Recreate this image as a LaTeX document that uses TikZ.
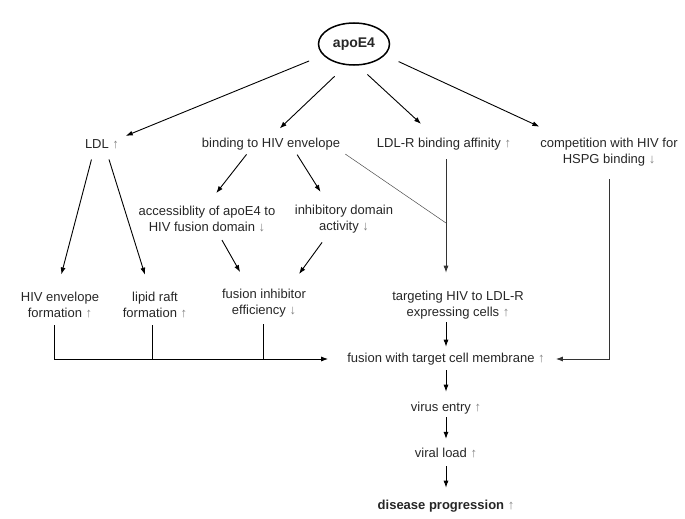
\documentclass[tikz,border=0pt]{standalone}
\usepackage{fontspec}
\setmainfont{Liberation Sans}
\usetikzlibrary{shapes.geometric,arrows.meta}
\newcommand{\upar}{\textcolor{gray}{↑}}
\newcommand{\downar}{\textcolor{gray}{↓}}

\begin{document}
\begin{tikzpicture}[x=1pt,y=-1pt,
	every node/.style={font=\fontsize{13}{16}\selectfont,align=center,inner sep=1pt,text=black!85},
	arr/.style={-{Latex[length=7pt,width=5pt]},line width=0.9pt},
	link/.style={line width=0.9pt}]
	\useasboundingbox (0,0) rectangle (685,519);

	\node[shape=ellipse,draw=black,line width=1.5pt,minimum width=71pt,minimum height=42pt,font=\fontsize{14}{16}\selectfont\bfseries] (apo) at (354,44) {apoE4};

	\node (ldl) at (102,144) {LDL \upar};
	\node (bind) at (271,144) {binding to HIV envelope};
	\node (ldlr) at (444,144) {LDL-R binding affinity \upar};
	\node (comp) at (609,152) {competition with HIV for\\HSPG binding \downar};
	\node (acc) at (207,219) {accessiblity of apoE4 to\\HIV fusion domain \downar};
	\node (inh) at (344,219) {inhibitory domain\\activity \downar};
	\node (env) at (60,305) {HIV envelope\\formation \upar};
	\node (raft) at (155,305) {lipid raft\\formation \upar};
	\node (finh) at (264,303) {fusion inhibitor\\efficiency \downar};
	\node (targ) at (458,305) {targeting HIV to LDL-R\\expressing cells \upar};
	\node (fus) at (446,359) {fusion with target cell membrane \upar};
	\node (entry) at (446,408) {virus entry \upar};
	\node (load) at (446,453) {viral load \upar};
	\node[font=\fontsize{13}{16}\selectfont\bfseries] (prog) at (446,506) {disease progression \upar};

	\coordinate (meet) at (fus |- 0,223);

	% from apoE4
	\draw[arr,shorten <=15pt,shorten >=6pt] (apo.200) -- (ldl.north east);
	\draw[arr,shorten <=16pt,shorten >=12pt] (apo.250) -- (bind.north);
	\draw[arr,shorten <=13pt,shorten >=19pt] (apo.280) -- ([xshift=-9pt]ldlr.north);
	\draw[arr,shorten <=15pt,shorten >=24pt] (apo.340) -- ([xshift=22pt]comp.north west);

	% second level
	\draw[arr,shorten <=10pt,shorten >=17pt] ([xshift=-8pt]ldl.south) -- ([xshift=-3pt]env.north);
	\draw[arr,shorten <=10pt,shorten >=17pt] ([xshift=4pt]ldl.south) -- ([xshift=-5pt]raft.north);
	\draw[arr,shorten <=4pt,shorten >=15pt] ([xshift=-22pt]bind.south) -- (acc.north);
	\draw[arr,shorten <=4pt,shorten >=14pt] ([xshift=24pt]bind.south) -- ([xshift=-16pt]inh.north);
	\draw[line width=0.5pt,black!70,shorten <=5pt] (bind.south east) -- (meet);
	\draw[arr,black!80,shorten <=8pt,shorten >=17pt] (fus |- ldlr.south) -- (fus |- targ.north);
	\draw[arr,shorten <=8pt,shorten >=18pt] ([xshift=11pt]acc.south) -- ([xshift=-15pt]finh.north);
	\draw[arr,shorten <=10pt,shorten >=17pt] ([xshift=-16pt]inh.south) -- ([xshift=25pt]finh.north);

	% into fusion
	\draw[arr,shorten <=6pt,shorten >=18pt] ([xshift=-6pt]env.south) |- (fus.west);
	\draw[link,shorten <=6pt] ([xshift=-3pt]raft.south) -- ([xshift=-3pt]raft.south |- fus.west);
	\draw[link,shorten <=6pt] ([xshift=-1pt]finh.south) -- ([xshift=-1pt]finh.south |- fus.west);
	\draw[arr,shorten <=2pt,shorten >=5pt] (targ.south -| fus) -- (fus.north);
	\draw[arr,black!80,shorten <=12pt,shorten >=10pt] (comp.south) |- (fus.east);

	% down the chain
	\draw[arr,shorten <=4pt,shorten >=9pt] (fus.south) -- (entry.north);
	\draw[arr,shorten <=2pt,shorten >=8pt] (entry.south) -- (load.north);
	\draw[arr,shorten <=7pt,shorten >=11pt] (load.south) -- (prog.north);
\end{tikzpicture}
\end{document}
